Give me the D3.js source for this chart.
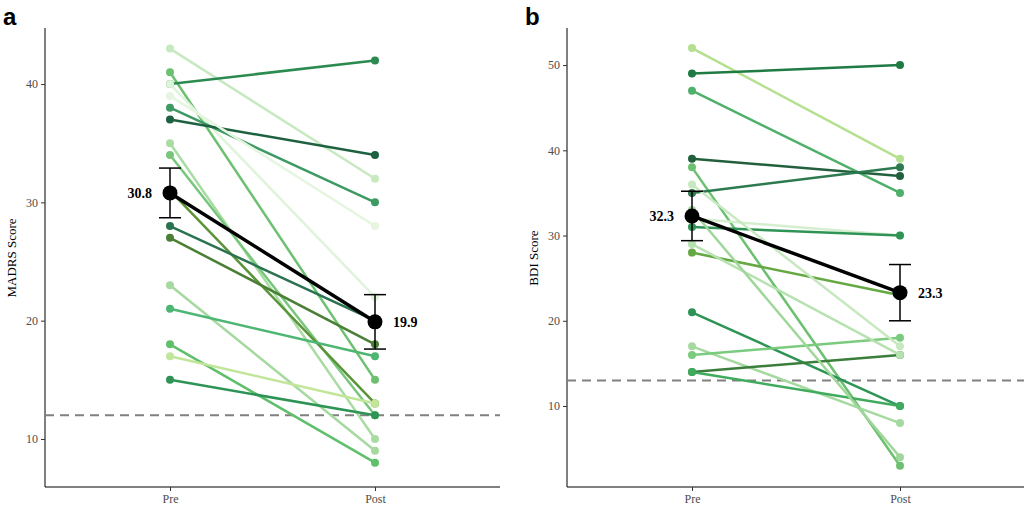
<!DOCTYPE html>
<html><head><meta charset="utf-8">
<script src="https://cdn.jsdelivr.net/npm/d3@7"></script>
<style>
body{margin:0;background:#fff}
text{font-family:"Liberation Serif","Times New Roman",serif}
</style></head><body>
<script>
var timepoints = ['Pre', 'Post']

// panel a: MADRS per subject [pre, post, colour]
var madrsPre  = [43, 41, 40, 40, 38, 37, 35, 34, 31, 28, 27, 23, 21, 18, 17, 15, 39]
var madrsPost = [32, 15, 42, 22, 30, 34, 10, 12, 13, 20, 18, 9, 17, 8, 13, 12, 28]
var madrsCol  = ['#c7e9c0', '#6cc070', '#2a8a4f', '#e0f3db', '#3d9a63', '#1e6140', '#a9dca2',
  '#78c67c', '#5a9438', '#2b7350', '#4a7f35', '#a6d9a0', '#4db672', '#5fbf6a', '#c2e699', '#2e9456', '#e5f5e0']
var madrsMean = [30.8, 19.9]
var madrsErr  = [2.1, 2.3]

// panel b: BDI
var bdiPre  = [52, 49, 47, 39, 38, 35, 32, 31, 28, 21, 17, 16, 14, 14, 36, 29, 33]
var bdiPost = [39, 50, 35, 37, 3, 38, 30, 30, 23, 10, 8, 18, 16, 10, 17, 16, 4]
var bdiCol  = ['#b5e08f', '#1f7a44', '#4fb06a', '#22603d', '#6cc070', '#2d7a50', '#d4eecf',
  '#2e9456', '#66a844', '#2e9456', '#a6d9a0', '#7acb7e', '#3b7d3b', '#41ab5d', '#c7e9c0', '#b5e2ae', '#9fd79b']
var bdiMean = [32.3, 23.3]
var bdiErr  = [2.9, 3.3]

var svg = d3.select('body').append('svg').attr('width', 1024).attr('height', 510)

function panel(cfg) {
  var g = svg.append('g')
  var x = d3.scalePoint().domain(timepoints).range([cfg.xPre, cfg.xPost])
  var y = d3.scaleLinear().domain(cfg.domain).range([487, 28])

  g.append('line').attr('x1', cfg.left).attr('x2', cfg.left).attr('y1', 28).attr('y2', 487).attr('stroke', '#000')
  g.append('line').attr('x1', cfg.left).attr('x2', cfg.right).attr('y1', 487).attr('y2', 487).attr('stroke', '#000')

  var yAxis = d3.axisLeft(y).tickValues(cfg.ticks).tickSize(4).tickFormat(d3.format('d'))
  var gy = g.append('g').attr('transform', 'translate(' + cfg.left + ',0)').call(yAxis)
  gy.select('.domain').remove()
  gy.selectAll('text').attr('font-size', 12).attr('fill', '#4d4d4d')
  gy.selectAll('line').attr('stroke', '#333')

  var xAxis = d3.axisBottom(x).tickSize(4)
  var gx = g.append('g').attr('transform', 'translate(0,487)').call(xAxis)
  gx.select('.domain').remove()
  gx.selectAll('text').attr('font-size', 12).attr('fill', '#4d4d4d')
  gx.selectAll('line').attr('stroke', '#333')

  g.append('text').attr('transform', 'translate(16,' + y(cfg.labelAt) + ') rotate(-90)')
    .attr('x', cfg.left - 45).attr('text-anchor', 'middle').attr('font-size', 13).text(cfg.ylabel)
    .attr('transform', 'translate(' + (cfg.left - 29) + ',258) rotate(-90)').attr('x', 0)

  g.append('text').attr('x', cfg.left - 42).attr('y', 25).attr('font-size', 24).attr('font-weight', 'bold')
    .style('font-family', '"Liberation Sans",Arial,sans-serif').text(cfg.letter)

  g.append('line').attr('x1', cfg.left).attr('x2', cfg.right)
    .attr('y1', y(cfg.cut)).attr('y2', y(cfg.cut))
    .attr('stroke', '#808080').attr('stroke-width', 2).attr('stroke-dasharray', '9,6')

  cfg.pre.forEach(function (p, i) {
    var c = cfg.col[i]
    g.append('line').attr('x1', x('Pre')).attr('x2', x('Post'))
      .attr('y1', y(p)).attr('y2', y(cfg.post[i]))
      .attr('stroke', c).attr('stroke-width', 2.5)
    g.append('circle').attr('cx', x('Pre')).attr('cy', y(p)).attr('r', 4).attr('fill', c)
    g.append('circle').attr('cx', x('Post')).attr('cy', y(cfg.post[i])).attr('r', 4).attr('fill', c)
  })

  g.append('line').attr('x1', x('Pre')).attr('x2', x('Post'))
    .attr('y1', y(cfg.mean[0])).attr('y2', y(cfg.mean[1]))
    .attr('stroke', '#000').attr('stroke-width', 3.5)
  timepoints.forEach(function (t, i) {
    var m = cfg.mean[i], e = cfg.err[i], cx = x(t)
    g.append('line').attr('x1', cx).attr('x2', cx).attr('y1', y(m - e)).attr('y2', y(m + e)).attr('stroke', '#000').attr('stroke-width', 1.5)
    ;[m - e, m + e].forEach(function (v) {
      g.append('line').attr('x1', cx - 11).attr('x2', cx + 11).attr('y1', y(v)).attr('y2', y(v)).attr('stroke', '#000').attr('stroke-width', 1.5)
    })
    g.append('circle').attr('cx', cx).attr('cy', y(m)).attr('r', 7.5).attr('fill', '#000')
    g.append('text').attr('x', i === 0 ? cx - 18 : cx + 18).attr('y', y(m) + 5)
      .attr('text-anchor', i === 0 ? 'end' : 'start')
      .attr('font-size', 14).attr('font-weight', 'bold').text(m.toFixed(1))
  })
}

panel({ letter: 'a', ylabel: 'MADRS Score', left: 45, right: 500, xPre: 170, xPost: 375,
  domain: [5.94, 44.74], ticks: [10, 20, 30, 40], cut: 12, labelAt: 25,
  pre: madrsPre, post: madrsPost, col: madrsCol, mean: madrsMean, err: madrsErr })
panel({ letter: 'b', ylabel: 'BDI Score', left: 567, right: 1024, xPre: 692, xPost: 900,
  domain: [0.5, 54.35], ticks: [10, 20, 30, 40, 50], cut: 13, labelAt: 27,
  pre: bdiPre, post: bdiPost, col: bdiCol, mean: bdiMean, err: bdiErr })
</script>
</body></html>
